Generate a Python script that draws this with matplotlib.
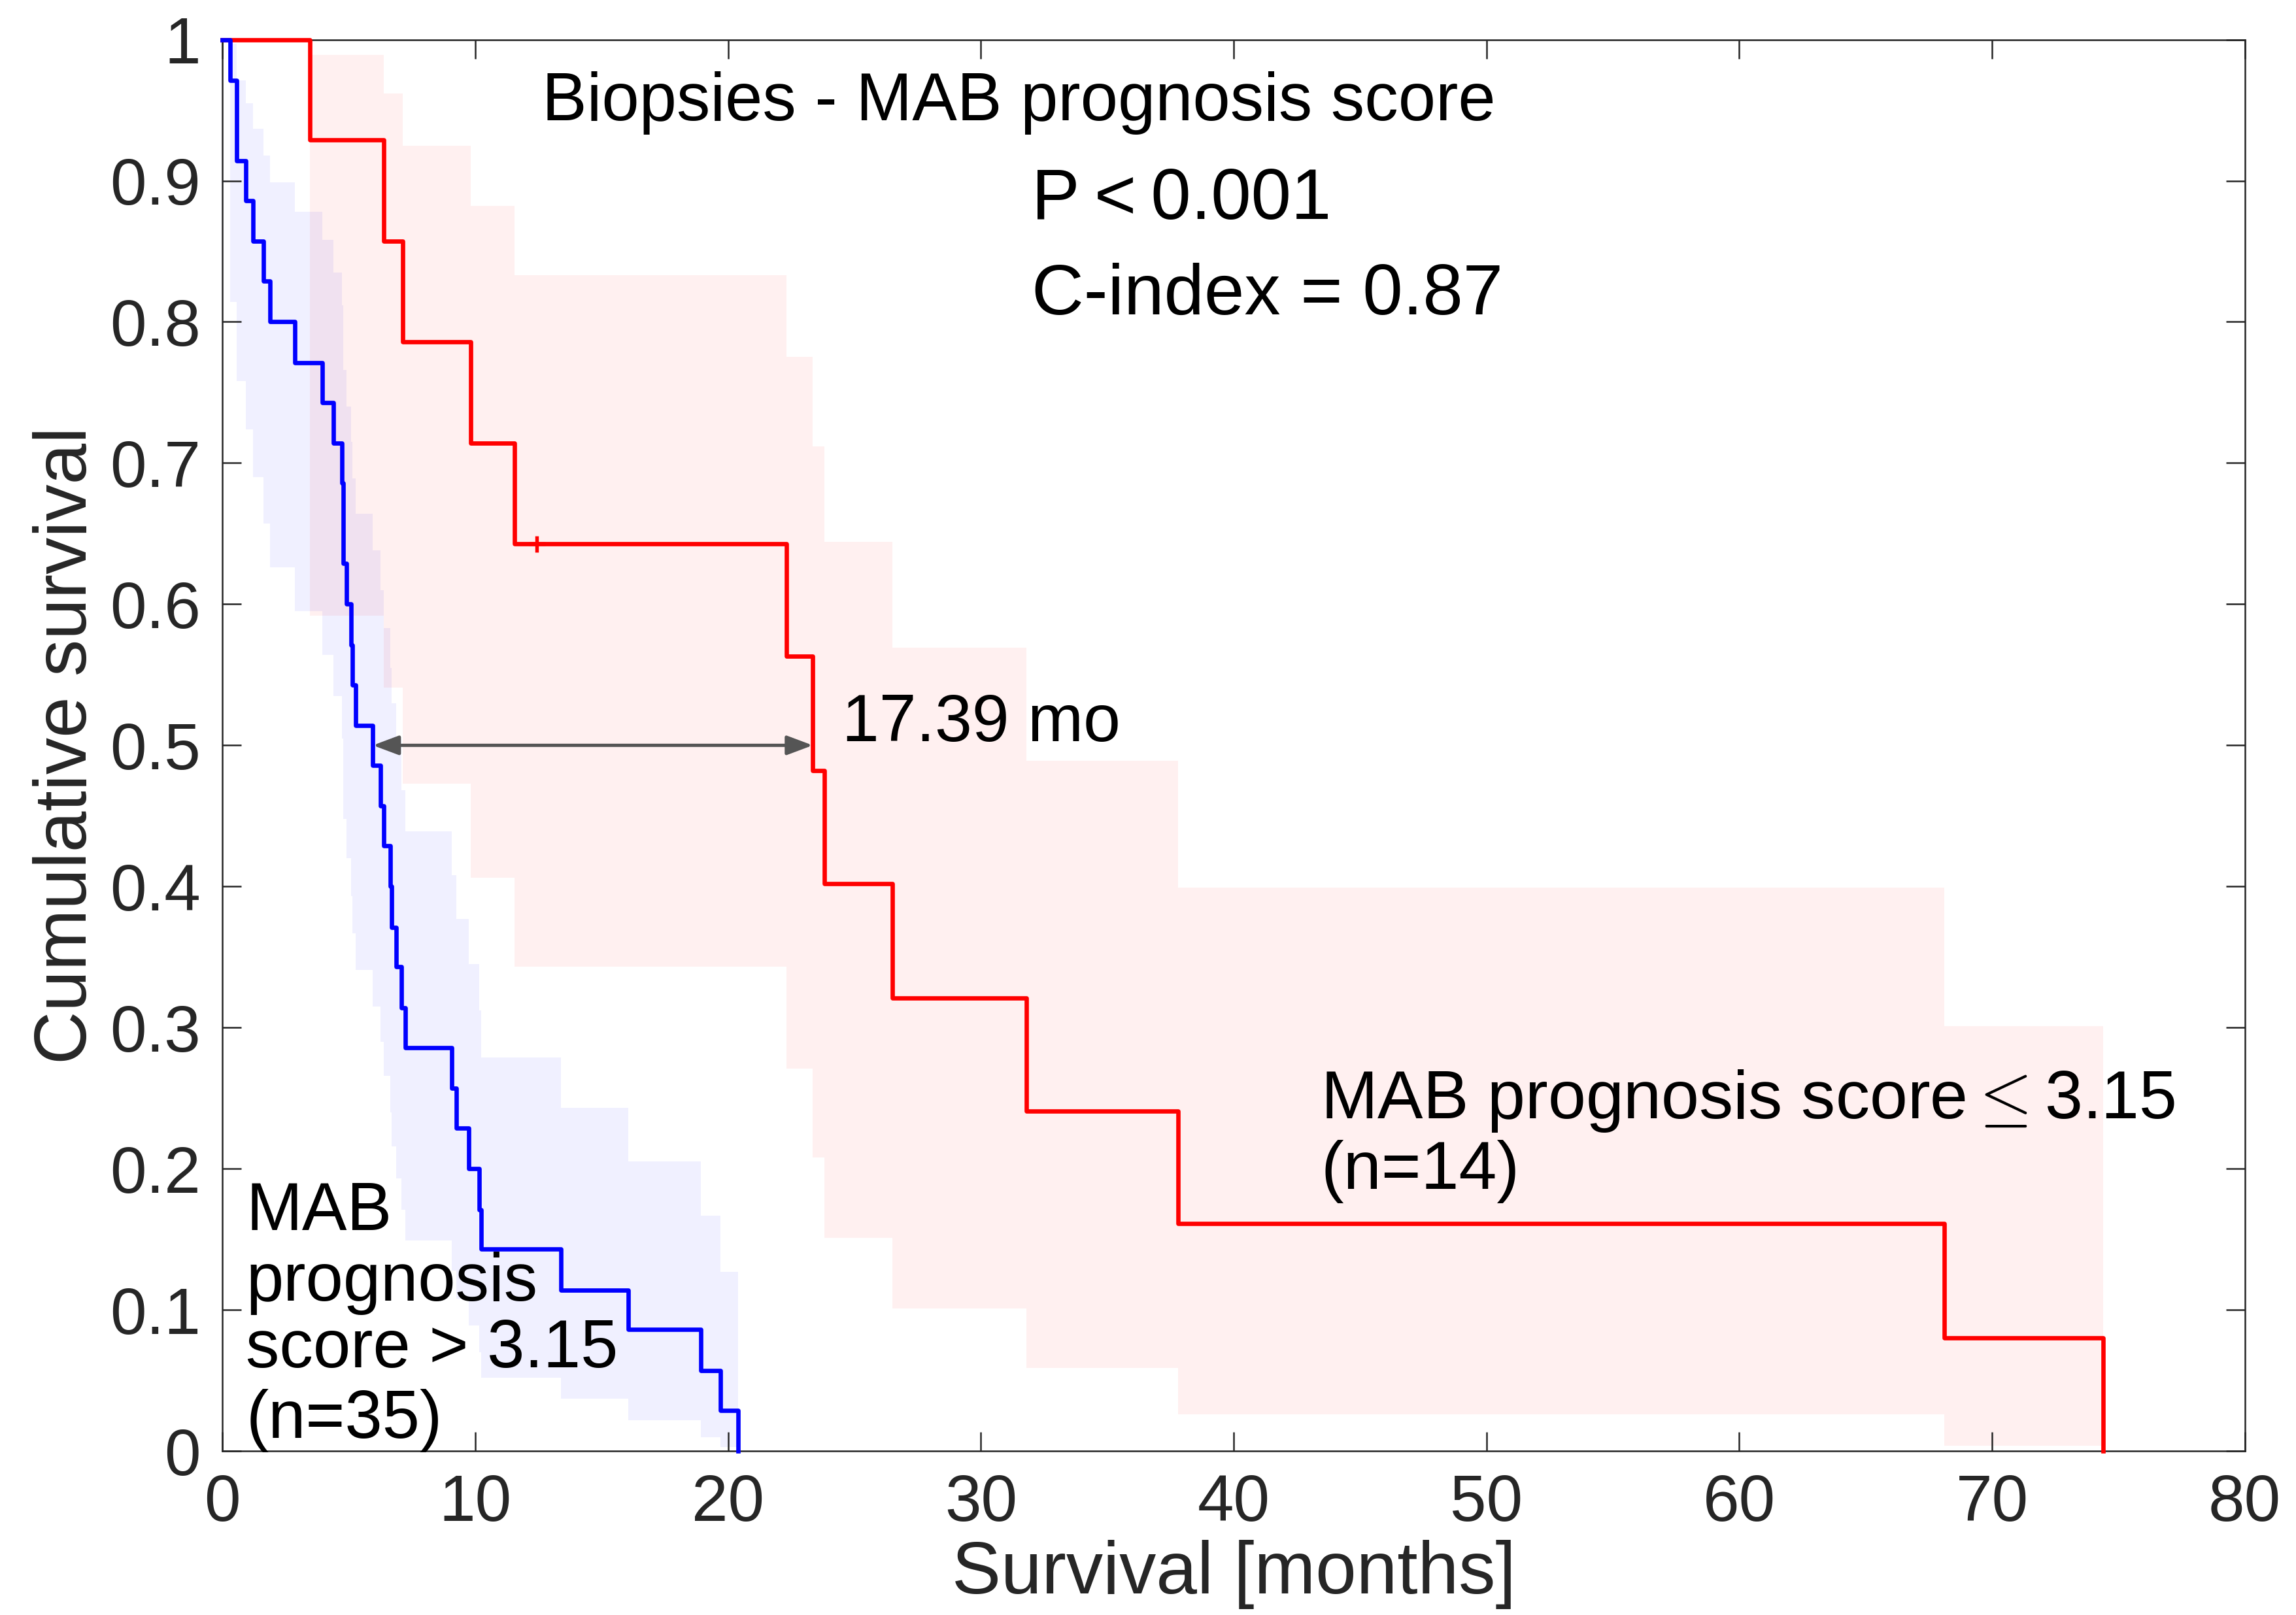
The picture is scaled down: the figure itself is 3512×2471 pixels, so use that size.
import numpy as np
import matplotlib.pyplot as plt

plt.rcParams['font.family'] = ['Liberation Sans', 'DejaVu Sans']

# MAB prognosis score > 3.15 (n=35), Kaplan-Meier steps and 95% band
blue_times = [0, 0.30, 0.57, 0.93, 1.21, 1.61, 1.87, 2.85, 3.96, 4.40, 4.72, 4.78,
              4.90, 5.09, 5.15, 5.28, 5.95, 6.25, 6.38, 6.64, 6.70, 6.87, 7.09, 7.23,
              9.08, 9.24, 9.73, 10.16, 10.23, 13.39, 16.05, 18.91, 19.70, 20.39]
blue_surv = [1, 0.971, 0.914, 0.886, 0.857, 0.829, 0.800, 0.771, 0.743, 0.714, 0.686, 0.629,
             0.600, 0.571, 0.543, 0.514, 0.486, 0.457, 0.429, 0.400, 0.371, 0.343, 0.314, 0.286,
             0.257, 0.229, 0.200, 0.171, 0.143, 0.114, 0.086, 0.057, 0.029, 0]
blue_upper = [1, 0.997, 0.971, 0.955, 0.937, 0.918, 0.899, 0.878, 0.858, 0.835, 0.812, 0.766,
              0.740, 0.715, 0.689, 0.664, 0.638, 0.610, 0.583, 0.555, 0.530, 0.505, 0.468, 0.439,
              0.408, 0.377, 0.345, 0.312, 0.279, 0.243, 0.205, 0.167, 0.127, 0.127]
blue_lower = [1, 0.814, 0.758, 0.724, 0.690, 0.657, 0.626, 0.595, 0.564, 0.535, 0.505, 0.448,
              0.420, 0.393, 0.367, 0.341, 0.315, 0.290, 0.266, 0.240, 0.216, 0.193, 0.171, 0.149,
              0.128, 0.108, 0.089, 0.070, 0.052, 0.037, 0.022, 0.010, 0.003, 0.003]

# MAB prognosis score <= 3.15 (n=14)
red_times = [0, 3.46, 6.39, 7.14, 9.83, 11.55, 22.30, 23.35, 23.80, 26.50, 31.80, 37.80, 68.10, 74.40]
red_surv = [1, 0.929, 0.857, 0.786, 0.714, 0.643, 0.563, 0.482, 0.402, 0.321, 0.241, 0.161, 0.080, 0]
red_upper = [1, 0.989, 0.962, 0.925, 0.882, 0.833, 0.775, 0.712, 0.644, 0.569, 0.489, 0.399, 0.301, 0.301]
red_lower = [1, 0.592, 0.541, 0.473, 0.406, 0.343, 0.271, 0.208, 0.151, 0.101, 0.059, 0.026, 0.004, 0.004]
red_censor_t = [12.44]
red_censor_s = [0.643]

blue_median = 5.95
red_median = 23.35

xticks = [0, 10, 20, 30, 40, 50, 60, 70, 80]
yticks = [0, 0.1, 0.2, 0.3, 0.4, 0.5, 0.6, 0.7, 0.8, 0.9, 1]
ytick_labels = ['0', '0.1', '0.2', '0.3', '0.4', '0.5', '0.6', '0.7', '0.8', '0.9', '1']

axis_col = '#262626'

fig = plt.figure(figsize=(3512 / 300, 2471 / 300), dpi=300)
ax = fig.add_axes([0.0969, 0.1015, 0.8808, 0.874])

# confidence bands
ax.fill_between(blue_times, blue_lower, blue_upper, step='post', color='blue', alpha=0.06, lw=0)
ax.fill_between(red_times, red_lower, red_upper, step='post', color='red', alpha=0.06, lw=0)

# survival curves
ax.step(red_times, red_surv, where='post', color='red', lw=1.6, clip_on=False, zorder=3)
ax.plot(red_censor_t, red_censor_s, '+', color='red', ms=6, mew=1.3, zorder=3)
ax.step(blue_times, blue_surv, where='post', color='blue', lw=1.6, clip_on=False, zorder=4)

# median difference
ax.annotate('', xy=(red_median, 0.5), xytext=(blue_median, 0.5),
            arrowprops=dict(arrowstyle='<|-|>,head_length=0.8,head_width=0.3',
                            color='#555555', lw=1.2, shrinkA=0, shrinkB=0,
                            mutation_scale=10), zorder=5)
ax.text(24.5, 0.515, '17.39 mo', fontsize=24.5, va='center', ha='left')

ax.text(31.5, 0.955, 'Biopsies - MAB prognosis score', fontsize=24.7, ha='center', va='center')
ax.text(32.0, 0.886, 'P\u2009<\u20090.001', fontsize=26.5, ha='left', va='center')
ax.text(32.0, 0.8185, 'C-index = 0.87', fontsize=26.5, ha='left', va='center')

ax.text(43.45, 0.248, 'MAB prognosis score$\\leq$3.15', fontsize=25, ha='left', va='center',
        math_fontfamily='cm')
ax.text(43.45, 0.198, '(n=14)', fontsize=25, ha='left', va='center')

low_lines = ['MAB', 'prognosis', 'score > 3.15', '(n=35)']
low_y = [0.169, 0.119, 0.0716, 0.0218]
for line, yy in zip(low_lines, low_y):
    ax.text(0.93, yy, line, fontsize=24.7, ha='left', va='center')

ax.set_xlim(0, 80)
ax.set_ylim(0, 1)
ax.set_xticks(xticks)
ax.set_xticklabels([str(v) for v in xticks])
ax.set_yticks(yticks)
ax.set_yticklabels(ytick_labels)
ax.tick_params(direction='in', length=7, width=0.6, colors=axis_col, labelsize=24,
               top=True, right=True, pad=8)
for sp in ax.spines.values():
    sp.set_color(axis_col)
    sp.set_linewidth(0.6)

ax.set_xlabel('Survival [months]', fontsize=27, color=axis_col, labelpad=2)
ax.set_ylabel('Cumulative survival', fontsize=27, color=axis_col, labelpad=3)

fig.savefig('out.png', dpi=300)
